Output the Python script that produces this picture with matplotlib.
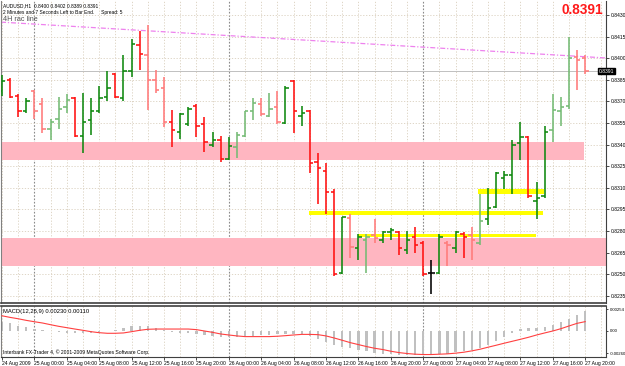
"""AUDUSD H1 chart with support/resistance zones and MACD, MT4 style."""

import matplotlib
matplotlib.use("Agg")
import matplotlib.pyplot as plt
from matplotlib import font_manager

# ---- data ----
opens = [0.8377, 0.8385, 0.8374, 0.8363, 0.8377, 0.8368, 0.8351, 0.8358, 0.8366, 0.8372,
         0.8346, 0.8357, 0.8363, 0.8373, 0.8389, 0.8372, 0.8391, 0.8409, 0.8402, 0.8385,
         0.8379, 0.8356, 0.8349, 0.8354, 0.8367, 0.8354, 0.8340, 0.8343, 0.8330, 0.8338,
         0.8346, 0.8363, 0.8368, 0.8360, 0.8366, 0.8355, 0.8384, 0.8360, 0.8363, 0.8328,
         0.8322, 0.8307, 0.8251, 0.8289, 0.8268, 0.8274, 0.8277, 0.8274, 0.8279, 0.8279,
         0.8267, 0.8276, 0.8272, 0.8251, 0.8251, 0.8272, 0.8268, 0.8278, 0.8277, 0.8272,
         0.8288, 0.8297, 0.8317, 0.8319, 0.8341, 0.8345, 0.8301, 0.8304, 0.8350, 0.8363,
         0.8367, 0.8401, 0.8400]
highs = [0.8388, 0.8386, 0.8375, 0.8372, 0.8378, 0.8372, 0.8358, 0.8373, 0.8375, 0.8373,
         0.8376, 0.8372, 0.8381, 0.8391, 0.8390, 0.8402, 0.8413, 0.8419, 0.8423, 0.8392,
         0.8387, 0.8364, 0.8362, 0.8366, 0.8368, 0.8359, 0.8349, 0.8346, 0.8345, 0.8349,
         0.8363, 0.8372, 0.8372, 0.8376, 0.8377, 0.8381, 0.8385, 0.8367, 0.8364, 0.8334,
         0.8327, 0.8309, 0.8290, 0.8292, 0.8278, 0.8278, 0.8288, 0.8280, 0.8282, 0.8280,
         0.8280, 0.8283, 0.8273, 0.8260, 0.8278, 0.8273, 0.8280, 0.8279, 0.8283, 0.8306,
         0.8310, 0.8321, 0.8322, 0.8343, 0.8356, 0.8346, 0.8314, 0.8353, 0.8375, 0.8373,
         0.8415, 0.8406, 0.8402]
lows = [0.8374, 0.8372, 0.8359, 0.8362, 0.8358, 0.8348, 0.8343, 0.8351, 0.8362, 0.8345,
        0.8334, 0.8347, 0.8362, 0.8370, 0.8372, 0.8370, 0.8387, 0.8392, 0.8364, 0.8376,
        0.8352, 0.8338, 0.8344, 0.8353, 0.8345, 0.8335, 0.8338, 0.8328, 0.8329, 0.8331,
        0.8345, 0.8357, 0.8360, 0.8359, 0.8354, 0.8354, 0.8348, 0.8353, 0.8320, 0.8299,
        0.8292, 0.8249, 0.8250, 0.8261, 0.8260, 0.8251, 0.8272, 0.8272, 0.8274, 0.8263,
        0.8264, 0.8265, 0.8249, 0.8236, 0.8250, 0.8256, 0.8265, 0.8261, 0.8260, 0.8270,
        0.8284, 0.8296, 0.8309, 0.8306, 0.8329, 0.8303, 0.8288, 0.8303, 0.8342, 0.8353,
        0.8365, 0.8378, 0.8389]
closes = [0.8384, 0.8373, 0.8363, 0.8370, 0.8363, 0.8351, 0.8356, 0.8365, 0.8371, 0.8346,
          0.8356, 0.8363, 0.8372, 0.8379, 0.8373, 0.8391, 0.8410, 0.8403, 0.8385, 0.8378,
          0.8356, 0.8350, 0.8361, 0.8365, 0.8353, 0.8342, 0.8343, 0.8330, 0.8339, 0.8347,
          0.8363, 0.8369, 0.8361, 0.8365, 0.8356, 0.8379, 0.8363, 0.8362, 0.8327, 0.8324,
          0.8307, 0.8250, 0.8290, 0.8269, 0.8276, 0.8276, 0.8275, 0.8279, 0.8281, 0.8268,
          0.8274, 0.8270, 0.8250, 0.8251, 0.8276, 0.8270, 0.8279, 0.8276, 0.8274, 0.8287,
          0.8296, 0.8320, 0.8319, 0.8340, 0.8345, 0.8304, 0.8303, 0.8349, 0.8364, 0.8366,
          0.8400, 0.8399, 0.8391]
# bars drawn in the paler shade
faded = [4, 5, 6, 7, 8, 18, 19, 20, 29, 30, 31, 32, 33, 34, 43, 45, 46, 55, 58, 59,
         68, 69, 70, 71, 72]

macd_main = [0.00110, 0.00090, 0.00062, 0.00050, 0.00025, 0.00008, -0.00005, -0.00015, -0.00020, -0.00028,
             -0.00022, -0.00018, -0.00010, -0.00005, 0.00008, 0.00030, 0.00060, 0.00062, 0.00055, 0.00035,
             0.00010, -0.00010, -0.00020, -0.00025, -0.00040, -0.00050, -0.00060, -0.00068, -0.00072, -0.00070,
             -0.00060, -0.00055, -0.00050, -0.00045, -0.00040, -0.00030, -0.00035, -0.00040, -0.00060, -0.00090,
             -0.00130, -0.00170, -0.00185, -0.00200, -0.00220, -0.00240, -0.00255, -0.00265, -0.00275, -0.00280,
             -0.00282, -0.00282, -0.00285, -0.00280, -0.00275, -0.00265, -0.00250, -0.00235, -0.00220, -0.00195,
             -0.00165, -0.00120, -0.00070, -0.00020, 0.00020, 0.00030, 0.00035, 0.00045, 0.00070, 0.00100,
             0.00140, 0.00190, 0.00230]
macd_signal = [0.00179, 0.00160, 0.00144, 0.00125, 0.00109, 0.00094, 0.00074, 0.00055, 0.00039, 0.00023,
               0.00008, -0.00008, -0.00020, -0.00027, -0.00027, -0.00023, -0.00008, 0.00008, 0.00020, 0.00023,
               0.00023, 0.00023, 0.00023, 0.00023, 0.00016, 0.00000, -0.00016, -0.00035, -0.00047, -0.00058,
               -0.00066, -0.00066, -0.00066, -0.00066, -0.00062, -0.00055, -0.00047, -0.00040, -0.00040, -0.00043,
               -0.00058, -0.00082, -0.00109, -0.00137, -0.00160, -0.00183, -0.00203, -0.00218, -0.00238, -0.00254,
               -0.00265, -0.00273, -0.00277, -0.00277, -0.00273, -0.00269, -0.00261, -0.00250, -0.00234, -0.00215,
               -0.00191, -0.00168, -0.00144, -0.00121, -0.00098, -0.00074, -0.00047, -0.00023, 0.00000, 0.00027,
               0.00059, 0.00090, 0.00110]

date_labels = ["24 Aug 2009", "25 Aug 00:00", "25 Aug 04:00", "25 Aug 08:00", "25 Aug 12:00",
               "25 Aug 16:00", "25 Aug 20:00", "26 Aug 00:00", "26 Aug 04:00", "26 Aug 08:00",
               "26 Aug 12:00", "26 Aug 16:00", "26 Aug 20:00", "27 Aug 00:00", "27 Aug 04:00",
               "27 Aug 08:00", "27 Aug 12:00", "27 Aug 16:00", "27 Aug 20:00"]
day_starts = [4, 28, 52]
price_ticks = [0.8430, 0.8415, 0.8400, 0.8385, 0.8370, 0.8355, 0.8340, 0.8325,
               0.8310, 0.8295, 0.8280, 0.8265, 0.8250, 0.8235]

# zones: (start bar, end bar, low, high)
pink_zones = [(-1, 71.9, 0.8329, 0.8342), (-1, 80, 0.8256, 0.8275)]
yellow_zones = [(37.9, 66.8, 0.8291, 0.8294), (44.0, 65.9, 0.8276, 0.8278),
                (58.8, 66.9, 0.8306, 0.8309)]
trend_pts = [(0, 0.8425), (72, 0.8401)]
last_price = 0.8391

names = {f.name for f in font_manager.fontManager.ttflist}
NARROW = "Liberation Sans Narrow" if "Liberation Sans Narrow" in names else "Liberation Sans"
plt.rcParams["font.family"] = [NARROW, "DejaVu Sans"]

GREEN, LGREEN = "#0f880f", "#74bb74"
RED, LRED = "#ff1010", "#ff7a7a"
GRID = "#d9cfbd"

n = len(opens)
xs = list(range(n))

fig = plt.figure(figsize=(6.25, 3.66), dpi=100)
ax = fig.add_axes([1 / 625, 1 - 303 / 366, 605 / 625, 302 / 366])
mx = fig.add_axes([1 / 625, 1 - 357 / 366, 605 / 625, 51 / 366], sharex=ax)

for a in (ax, mx):
    for i in range(0, n + 2, 2):
        if i in day_starts:
            a.axvline(i, color="#8a8a8a", lw=0.8, ls=(0, (1.5, 1.5)), zorder=0)
        else:
            a.axvline(i, color=GRID, lw=0.6, ls=(0, (1.5, 2)), zorder=0)
for p in price_ticks:
    ax.axhline(p, color=GRID, lw=0.6, ls=(0, (1.5, 2)), zorder=0)

for x0, x1, lo, hi in pink_zones:
    ax.fill_between([x0, x1], lo, hi, color="#ffb6c1", lw=0, zorder=1)
for x0, x1, lo, hi in yellow_zones:
    ax.fill_between([x0, x1], lo, hi, color="#ffff00", lw=0, zorder=1)

ax.axhline(last_price, color="#c0c0c0", lw=0.7, zorder=1)
ax.axline(trend_pts[0], trend_pts[1], color="#ee82ee", lw=0.9,
          ls=(0, (4, 1.5, 1, 1.5)), zorder=2)

w = 0.42
for i in xs:
    o, h, l, c = opens[i], highs[i], lows[i], closes[i]
    if c > o:
        col = LGREEN if i in faded else GREEN
    elif c < o:
        col = LRED if i in faded else RED
    else:
        col = "black"
    ax.vlines(i, l, h, color=col, lw=1.15, zorder=3)
    ax.hlines(o, i - w, i, color=col, lw=1.15, zorder=3)
    ax.hlines(c, i, i + w, color=col, lw=1.15, zorder=3)

ax.set_xlim(-0.12, 74.57)
ax.set_ylim(0.8230, 0.84397)
ax.yaxis.tick_right()
ax.set_yticks(price_ticks)
ax.set_yticklabels([f"{p:.4f}" for p in price_ticks])
ax.tick_params(axis="y", labelsize=3.6, length=2, width=0.5, pad=1.5, colors="black")
ax.tick_params(axis="x", bottom=False, labelbottom=False)
ax.spines["top"].set_visible(False)
ax.spines["left"].set_color("#808080")
ax.spines["right"].set_color("#404040")
ax.spines["bottom"].set_color("#404040")
ax.spines["bottom"].set_linewidth(1.2)

ax.text(n - 1 + 1.7, last_price, f"{last_price:.4f}", transform=ax.transData,
        fontsize=3.6, color="white", va="center", ha="left", clip_on=False,
        bbox=dict(boxstyle="square,pad=0.15", fc="black", ec="black"), zorder=6)

ax.text(0.004, 0.993, "AUDUSD,H1  0.8400 0.8402 0.8389 0.8391", transform=ax.transAxes,
        fontsize=3.5, va="top", ha="left")
ax.text(0.004, 0.971, "2 Minutes and 7 Seconds Left to Bar End.     Spread: 5",
        transform=ax.transAxes, fontsize=3.5, va="top", ha="left")
ax.text(0.004, 0.950, "4H rac line", transform=ax.transAxes, fontsize=5.2,
        color="#505050", va="top", ha="left")
ax.text(0.995, 0.992, "0.8391", transform=ax.transAxes, fontsize=9.8,
        fontweight="bold", color="#ff1a1a", va="top", ha="right")

# MACD panel
mx.bar(xs, macd_main, width=0.28, color="#c0c0c0", zorder=2)
mx.plot(xs, macd_signal, color="#ff4040", lw=0.8, zorder=3)
mx.set_ylim(-0.00306, 0.00294)
mx.yaxis.tick_right()
mx.set_yticks([0.00254, 0.0, -0.00260])
mx.set_yticklabels(["0.00254", "0.00", "-0.00260"])
mx.tick_params(axis="y", labelsize=3.1, length=1.5, width=0.5, pad=1)
mx.set_xticks(list(range(0, n, 4)))
mx.set_xticklabels(date_labels, ha="left")
mx.tick_params(axis="x", labelsize=3.6, length=2, width=0.5, pad=0.8)
mx.spines["top"].set_color("#404040")
mx.spines["top"].set_linewidth(1.2)
mx.spines["left"].set_color("#808080")
mx.spines["right"].set_color("#404040")
mx.spines["bottom"].set_color("#404040")
mx.text(0.004, 0.95, "MACD(12,26,9) 0.00230 0.00110", transform=mx.transAxes,
        fontsize=4.2, va="top", ha="left")
mx.text(0.004, 0.04, "Interbank FX-Trader 4, \u00a9 2001-2009 MetaQuotes Software Corp.",
        transform=mx.transAxes, fontsize=3.6, va="bottom", ha="left")

fig.savefig("out.png", dpi=100)
